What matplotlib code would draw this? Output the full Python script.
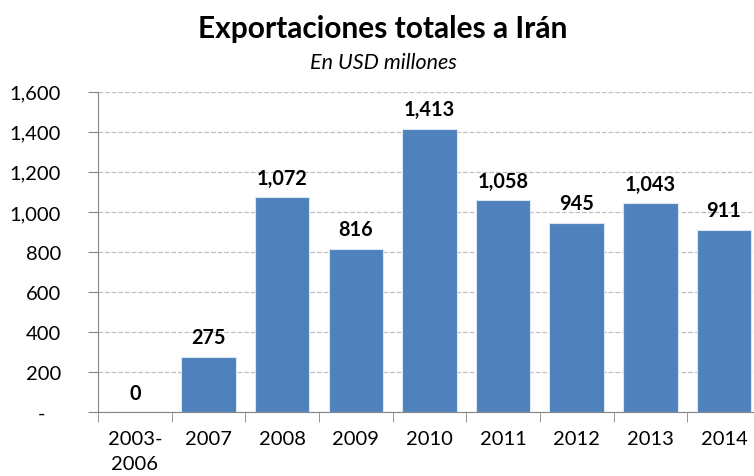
import matplotlib.pyplot as plt
import numpy as np

categorias = ['2003-\n2006', '2007', '2008', '2009', '2010', '2011', '2012', '2013', '2014']
exportaciones = [0, 275, 1072, 816, 1413, 1058, 945, 1043, 911]
yticks = [0, 200, 400, 600, 800, 1000, 1200, 1400, 1600]

plt.rcParams['font.family'] = ['Lato', 'DejaVu Sans']

fig = plt.figure(figsize=(7.54, 4.77), dpi=100)
ax = fig.add_axes([0.130, 0.1335, 0.879, 0.6722])

x = np.arange(len(categorias))
bars = ax.bar(x, exportaciones, width=0.74, color='#4F81BD', edgecolor='#dce6f2',
              linewidth=0.8, zorder=3)

for xi, v in zip(x, exportaciones):
    ax.annotate(f'{v:,}', (xi, v), xytext=(0, 7), textcoords='offset points',
                ha='center', va='bottom', fontsize=14.3, fontweight='bold', zorder=4)

ax.set_xlim(-0.5, len(categorias) - 0.5)
ax.set_ylim(0, 1600)
ax.set_yticks(yticks)
ax.set_yticklabels(['-   ' if t == 0 else f'{t:,}' for t in yticks], fontsize=14.5)
ax.set_xticks(x)
ax.set_xticklabels(categorias, fontsize=14.5, linespacing=1.55)
ax.set_xticks(np.arange(-0.5, len(categorias), 1), minor=True)
ax.tick_params(axis='x', which='major', length=0, pad=13)
ax.tick_params(axis='x', which='minor', length=7, color='#868686', direction='out')
ax.tick_params(axis='y', length=7, color='#868686', direction='out', pad=19.5)

ax.grid(axis='y', linestyle='--', color='#bfbfbf', linewidth=0.9, zorder=0)
for side in ['top', 'right']:
    ax.spines[side].set_visible(False)
for side in ['left', 'bottom']:
    ax.spines[side].set_color('#868686')

fig.text(0.508, 0.94, 'Exportaciones totales a Irán', ha='center', va='center',
         fontsize=21.5, fontweight='bold')
fig.text(0.508, 0.868, 'En USD millones', ha='center', va='center',
         fontsize=15.5, style='italic')

fig.savefig('out.png', dpi=100)
